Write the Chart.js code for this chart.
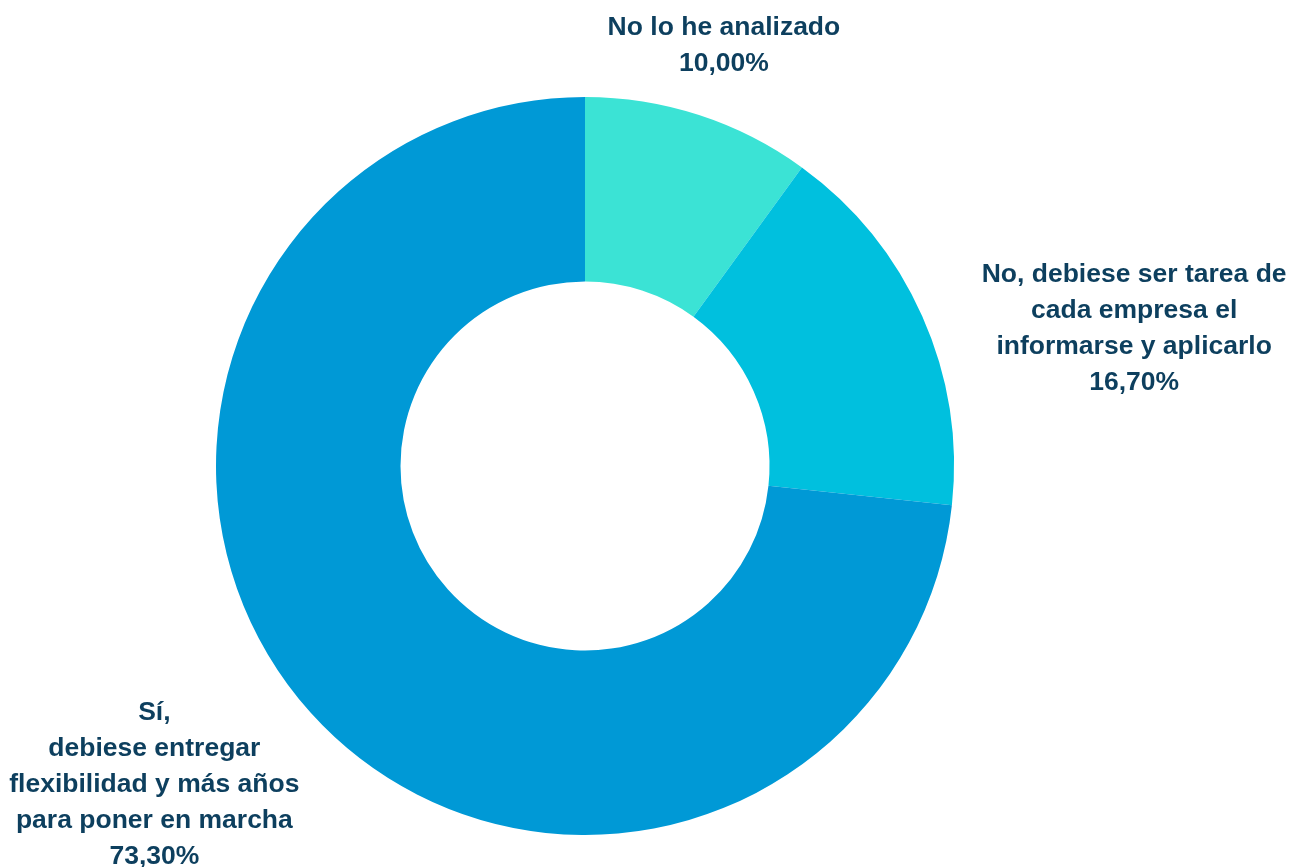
<!DOCTYPE html>
<html>
<head>
<meta charset="utf-8">
<script src="https://cdn.jsdelivr.net/npm/chart.js@4"></script>
<style>
  html, body { margin: 0; padding: 0; background: #ffffff; }
  #wrap { width: 1291px; height: 867px; position: relative; }
</style>
</head>
<body>
<div id="wrap"><canvas id="c" width="1291" height="867"></canvas></div>
<script>
// ---- data ----
const categories = [
  ["No lo he analizado"],
  ["No, debiese ser tarea de", "cada empresa el", "informarse y aplicarlo"],
  ["Sí,", "debiese entregar", "flexibilidad y más años", "para poner en marcha"]
];
const values = [10.0, 16.7, 73.3];
const colors = ["#3BE3D5", "#00C0DE", "#0099D6"];

// ---- label placement (turn in degrees from slice middle, distance as fraction of outer radius) ----
const labelPlacement = [
  { turn: 0.3, dist: 1.199 },
  { turn: 9.9, dist: 1.534 },
  { turn: 5.43, dist: 1.452 }
];

function fmtPct(v) {
  return v.toFixed(2).replace('.', ',') + '%';
}

const outsideLabels = {
  id: 'outsideLabels',
  afterDatasetsDraw(chart) {
    const ctx = chart.ctx;
    const meta = chart.getDatasetMeta(0);
    ctx.save();
    ctx.font = 'bold 26.5px "Liberation Sans", Arial, sans-serif';
    ctx.fillStyle = '#0D3F5E';
    ctx.textAlign = 'center';
    ctx.textBaseline = 'middle';
    const lineH = 36;
    meta.data.forEach((arc, i) => {
      const p = arc.getProps(['x', 'y', 'startAngle', 'endAngle', 'outerRadius'], true);
      const mid = (p.startAngle + p.endAngle) / 2 + labelPlacement[i].turn * Math.PI / 180;
      const r = p.outerRadius * labelPlacement[i].dist;
      const cx = p.x + Math.cos(mid) * r;
      const cy = p.y + Math.sin(mid) * r;
      const lines = categories[i].concat([fmtPct(values[i])]);
      const top = cy - (lines.length - 1) * lineH / 2;
      lines.forEach((ln, k) => ctx.fillText(ln, cx, top + k * lineH));
    });
    ctx.restore();
  }
};

new Chart(document.getElementById('c'), {
  type: 'doughnut',
  data: {
    labels: categories.map(c => c.join(' ')),
    datasets: [{
      data: values,
      backgroundColor: colors,
      borderWidth: 0,
      hoverOffset: 0
    }]
  },
  options: {
    responsive: false,
    animation: false,
    cutout: '50%',
    layout: { padding: { left: 216, right: 337, top: 97, bottom: 32 } },
    plugins: {
      legend: { display: false },
      tooltip: { enabled: false }
    }
  },
  plugins: [outsideLabels]
});
</script>
</body>
</html>
